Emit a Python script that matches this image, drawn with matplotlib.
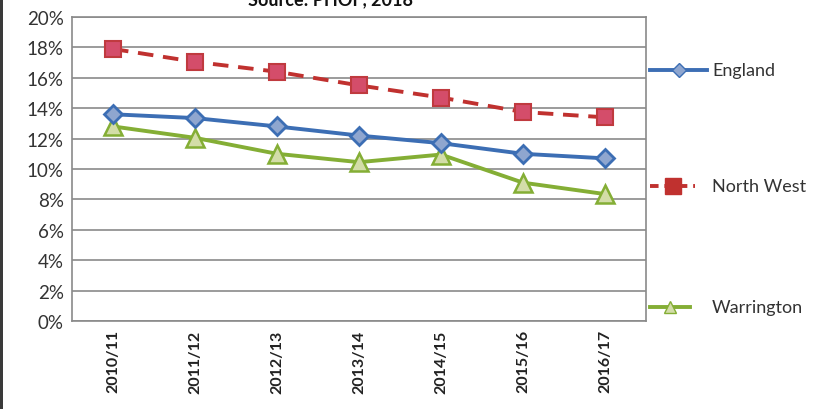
import matplotlib
matplotlib.use("Agg")
import matplotlib.pyplot as plt
from matplotlib.lines import Line2D
from matplotlib.patches import Rectangle
from matplotlib.ticker import FuncFormatter, MultipleLocator

categories = ["2010/11", "2011/12", "2012/13", "2013/14", "2014/15", "2015/16", "2016/17"]
england = [13.6, 13.35, 12.8, 12.2, 11.7, 11.0, 10.7]
north_west = [17.9, 17.05, 16.4, 15.5, 14.7, 13.75, 13.4]
warrington = [12.8, 12.05, 11.0, 10.45, 10.95, 9.1, 8.35]
series_names = ["England", "North West", "Warrington"]

plt.rcParams['font.family'] = ['Lato', 'DejaVu Sans']

fig = plt.figure(figsize=(8.18, 4.10), dpi=100)
ax = fig.add_axes([72/818, 88/410, (646-72)/818, (322-18)/410])

x = list(range(len(categories)))
blue = "#3C6EB4"
red = "#C0312F"
green = "#84AE35"

ax.plot(x, england, color=blue, lw=2.8, marker="D", ms=9, mfc="#8FA6CF", mec=blue, mew=2, zorder=4)
ax.plot(x, north_west, color=red, lw=2.8, ls=(0, (4, 2.5)), marker="s", ms=12, mfc="#D44D6A", mec="#C03A3F", mew=1.5, zorder=3)
ax.plot(x, warrington, color=green, lw=2.8, marker="^", ms=13, mfc="#D3DDA8", mec=green, mew=1.8, zorder=3)

ax.set_xlim(-0.5, 6.5)
ax.set_ylim(0, 20)
ax.yaxis.set_major_locator(MultipleLocator(2))
ax.yaxis.set_major_formatter(FuncFormatter(lambda v, p: f"{v:.0f}%"))
ax.set_xticks(x)
ax.set_xticklabels(categories, rotation=90, fontsize=11.5, fontweight="bold", color="#222222")
ax.tick_params(axis="both", length=0, pad=6)
ax.tick_params(axis="y", labelsize=13.5, colors="#333333")
ax.grid(axis="y", color="#8A8A8A", lw=1.2)
ax.set_axisbelow(True)
for s in ax.spines.values():
    s.set_color("#8A8A8A")
    s.set_linewidth(1.2)

fig.text(330/818, 1.0, "Source: PHOF, 2018", ha="center", va="center", fontsize=13, fontweight="bold", color="#111111")

# legend
def leg(y, color, ls, marker, ms, mfc, mec, label, x0, x1, tx):
    yy = 1 - y/410
    fig.add_artist(Line2D([x0/818, x1/818], [yy, yy], transform=fig.transFigure, color=color, lw=2.8, ls=ls))
    fig.add_artist(Line2D([(x0+x1)/2/818], [yy], transform=fig.transFigure, color=color, marker=marker, ms=ms, mfc=mfc, mec=mec, ls="none"))
    fig.text(tx/818, yy, label, ha="left", va="center", fontsize=13, color="#333333")

leg(71, blue, "-", "D", 7, "#8FA6CF", blue, series_names[0], 650, 707, 712)
leg(187, red, (0, (2.2, 1.5)), "s", 11, red, red, series_names[1], 650, 695, 712)
leg(308, green, "-", "^", 9, "#D3DDA8", green, series_names[2], 650, 690, 712)

fig.add_artist(Rectangle((0, 0), 3/818, 1, transform=fig.transFigure, facecolor="#3A3A3A", edgecolor="none", zorder=10))

fig.savefig("out.png", dpi=100)
